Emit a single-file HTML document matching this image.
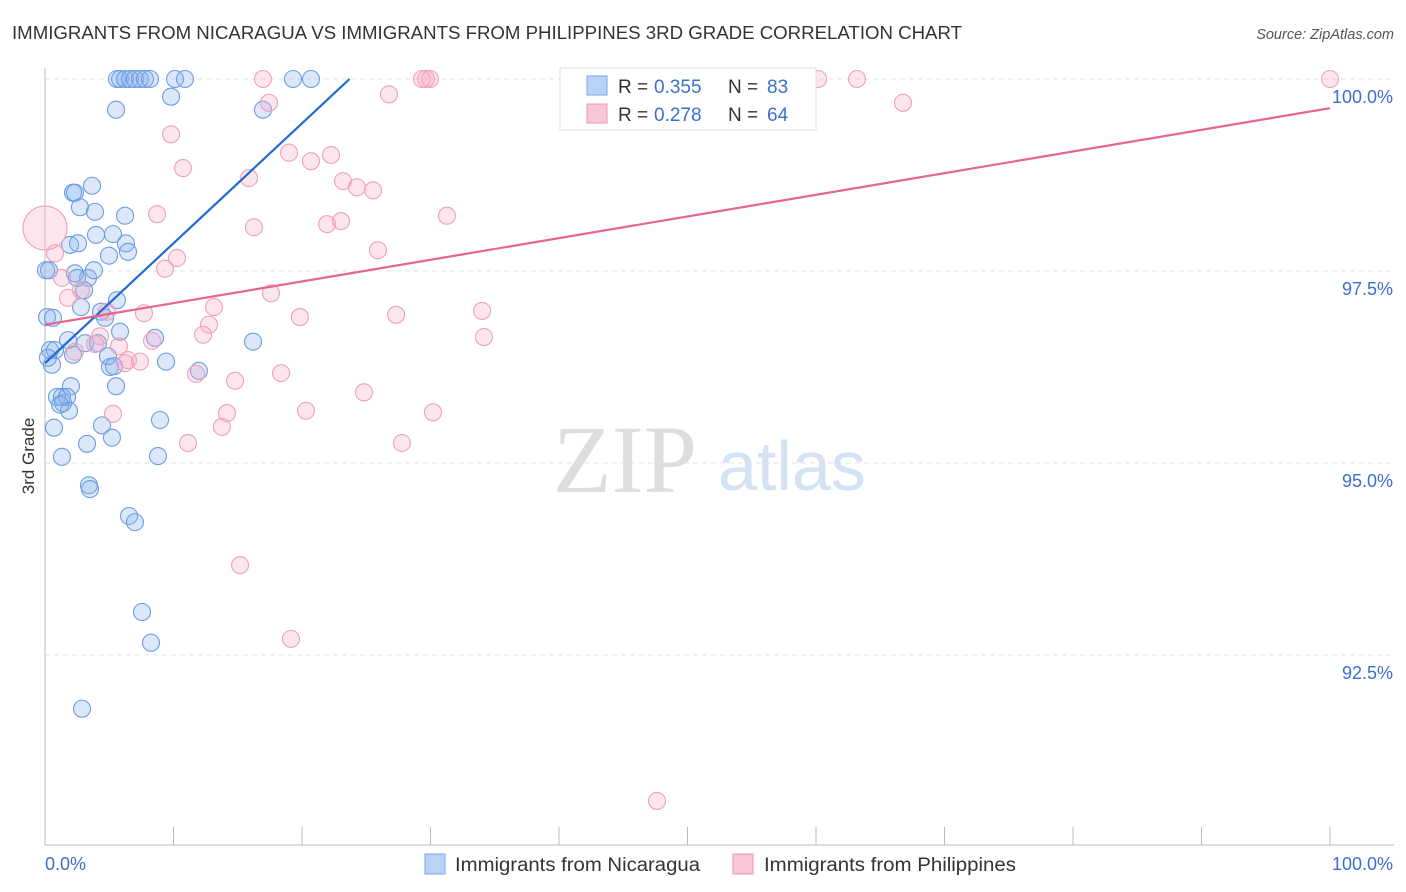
<!DOCTYPE html>
<html><head><meta charset="utf-8"><style>
body{margin:0;background:#fff;font-family:"Liberation Sans",sans-serif}
svg{display:block}
</style></head><body>
<svg id="c" width="1406" height="892" xmlns="http://www.w3.org/2000/svg">
<text x="12" y="39" font-size="18" fill="#333" textLength="950" lengthAdjust="spacingAndGlyphs">IMMIGRANTS FROM NICARAGUA VS IMMIGRANTS FROM PHILIPPINES 3RD GRADE CORRELATION CHART</text>
<text x="1394" y="39" font-size="14.5" fill="#555" font-style="italic" text-anchor="end">Source: ZipAtlas.com</text>
<text x="34" y="456" font-size="17" fill="#333" transform="rotate(-90 34 456)" text-anchor="middle">3rd Grade</text>
<g><text x="553" y="492" font-size="96" fill="#ddd" font-family="Liberation Serif,serif">ZIP</text><text x="718" y="490" font-size="70" fill="#d4e2f4">atlas</text></g>
<g id="grid"></g><g id="pts"></g><g id="lines"></g>
<g>
<rect x="560" y="68" width="256" height="62" fill="#fff" stroke="#ddd"/>
<rect x="587" y="76" width="20" height="19" fill="#b9d3f5" stroke="#7aa6e6"/>
<rect x="587" y="104" width="20" height="19" fill="#f9c6d6" stroke="#ee95b3"/>
<text x="618" y="93" font-size="19" fill="#333">R =</text><text x="654" y="93" font-size="19" fill="#3a70cc">0.355</text>
<text x="728" y="93" font-size="19" fill="#333">N =</text><text x="767" y="93" font-size="19" fill="#3a70cc">83</text>
<text x="618" y="121" font-size="19" fill="#333">R =</text><text x="654" y="121" font-size="19" fill="#3a70cc">0.278</text>
<text x="728" y="121" font-size="19" fill="#333">N =</text><text x="767" y="121" font-size="19" fill="#3a70cc">64</text>
</g>
<g>
<rect x="425" y="854" width="20" height="20" fill="#b9d3f5" stroke="#7aa6e6"/>
<text x="455" y="871" font-size="19" fill="#333" textLength="245" lengthAdjust="spacingAndGlyphs">Immigrants from Nicaragua</text>
<rect x="733" y="854" width="20" height="20" fill="#f9c6d6" stroke="#ee95b3"/>
<text x="764" y="871" font-size="19" fill="#333" textLength="252" lengthAdjust="spacingAndGlyphs">Immigrants from Philippines</text>
</g>
</svg>
<script>
const yTicks=[100,97.5,95,92.5];
const yTickLabels=["100.0%","97.5%","95.0%","92.5%"];
const xTickLabels=["0.0%","100.0%"];
const nicX=[5.6,5.84,6.23,6.61,7.0,7.39,7.78,8.17,10.12,10.89,19.3,20.7,5.53,9.81,16.96,2.18,2.33,3.66,2.72,3.89,6.23,3.97,5.29,6.3,1.95,2.57,4.98,6.46,0.08,2.33,3.35,3.81,3.04,5.6,2.8,4.36,4.67,5.84,8.56,16.19,1.79,3.11,4.12,0.16,0.62,0.39,0.78,0.54,0.23,2.18,4.9,5.06,5.37,9.42,11.98,2.02,0.93,1.32,1.4,1.71,1.17,1.87,5.53,0.7,4.44,8.95,1.32,3.27,5.21,8.79,3.42,3.5,6.54,7.0,7.55,8.25,2.88,0.31,2.49];
const nicY=[100,100,100,100,100,100,100,100,100,100,100,100,99.6,99.77,99.6,98.52,98.52,98.61,98.33,98.27,98.22,97.97,97.98,97.86,97.84,97.86,97.7,97.75,97.51,97.47,97.41,97.51,97.25,97.12,97.03,96.97,96.89,96.71,96.63,96.58,96.6,96.56,96.56,96.9,96.89,96.47,96.47,96.28,96.37,96.41,96.39,96.25,96.26,96.32,96.2,96.0,95.86,95.86,95.78,95.86,95.76,95.68,96.0,95.46,95.49,95.56,95.08,95.25,95.33,95.09,94.71,94.66,94.31,94.23,93.06,92.66,91.8,97.51,97.41];
const phiX=[16.96,29.65,29.96,29.34,60.16,63.19,100,17.43,26.77,66.77,9.81,10.74,18.99,20.7,22.26,15.88,23.19,24.28,25.53,8.72,16.26,21.95,23.04,31.28,25.91,0.78,10.27,9.34,1.32,2.8,1.79,17.59,13.15,7.7,19.84,27.32,34.01,4.82,12.76,12.3,34.16,8.33,4.28,3.89,5.76,2.33,6.46,7.39,6.23,11.75,14.79,18.37,24.82,5.29,14.16,20.31,30.19,13.77,11.13,27.78,15.18,19.14,47.63,0];
const phiY=[100,100,100,100,100,100,100,99.69,99.8,99.69,99.28,98.84,99.04,98.93,99.01,98.71,98.67,98.59,98.55,98.24,98.07,98.11,98.15,98.22,97.77,97.73,97.67,97.53,97.41,97.25,97.15,97.21,97.03,96.95,96.9,96.93,96.98,96.97,96.8,96.67,96.64,96.59,96.65,96.55,96.52,96.45,96.34,96.32,96.3,96.16,96.07,96.17,95.92,95.64,95.65,95.68,95.66,95.47,95.26,95.26,93.67,92.71,90.6,98.06];
const trendNic=[96.3,100];
const trendNicEndX=23.7;
const trendPhi=[96.8,99.62];
const X=v=>45+v*12.85, Y=v=>79+(100-v)*76.8;
const NS="http://www.w3.org/2000/svg";
function mk(p,t,a){const e=document.createElementNS(NS,t);for(const k in a)e.setAttribute(k,a[k]);p.appendChild(e);return e;}
const grid=document.getElementById('grid');
yTicks.forEach((t,i)=>{
 const l=mk(grid,'line',{x1:45,x2:1394,y1:Y(t),y2:Y(t),stroke:'#e3e3e3','stroke-dasharray':'5,4'});
 
 
 const tx=mk(grid,'text',{x:1393,y:Y(t)+24,'font-size':18,fill:'#3a70cc','text-anchor':'end'});tx.textContent=yTickLabels[i];
 
 
});
mk(grid,'line',{x1:45,x2:45,y1:68,y2:845,stroke:'#bbb'});
mk(grid,'line',{x1:45,x2:1394,y1:845,y2:845,stroke:'#bbb'});
for(let i=0;i<=10;i++){mk(grid,'line',{x1:X(i*10),x2:X(i*10),y1:827,y2:845,stroke:'#bbb'});}
[0,100].forEach((v,i)=>{const t=mk(grid,'text',{x:i?1393:45,y:870,'font-size':18,fill:'#3a70cc','text-anchor':i?'end':'start'});t.textContent=xTickLabels[i];
 
 });
const pts=document.getElementById('pts');
nicX.forEach((x,i)=>{const c=mk(pts,'circle',{cx:X(x),cy:Y(nicY[i]),r:8.5,fill:'rgba(140,180,235,0.3)',stroke:'#6a9de3','stroke-width':1.1});
 
 });
phiX.forEach((x,i)=>{const big=i===phiX.length-1;const c=mk(pts,'circle',{cx:X(x),cy:Y(phiY[i]),r:big?22:8.5,fill:'rgba(245,170,195,0.3)',stroke:'#f0a0bc','stroke-width':1.1});
 
 });
const ln=document.getElementById('lines');
const a=mk(ln,'line',{x1:X(0),y1:Y(trendNic[0]),x2:X(trendNicEndX),y2:Y(trendNic[1]),stroke:'#1f6ad6','stroke-width':2.2});


const b=mk(ln,'line',{x1:X(0),y1:Y(trendPhi[0]),x2:X(100),y2:Y(trendPhi[1]),stroke:'#e8648e','stroke-width':2.2});


</script>
</body></html>
